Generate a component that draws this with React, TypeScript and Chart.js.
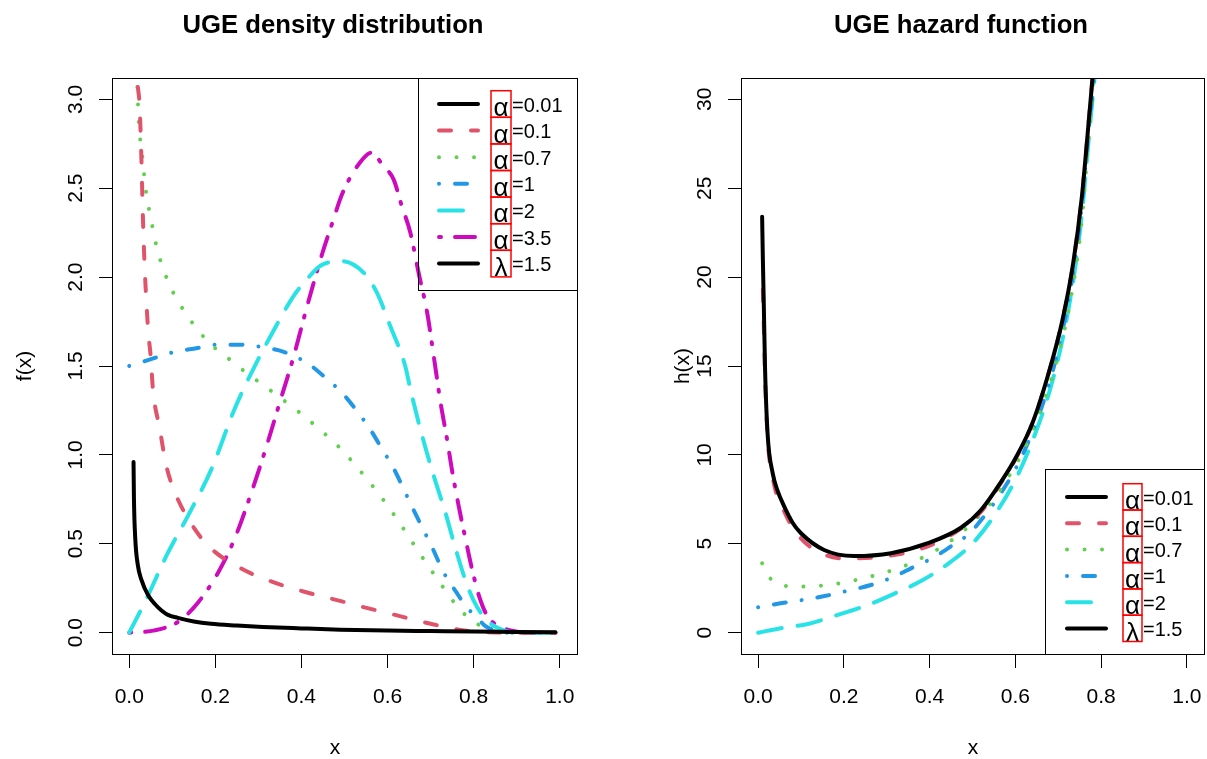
import React, { useEffect, useRef } from "react";
import { Chart, registerables } from "chart.js";
Chart.register(...registerables);

const FONT = '"Liberation Sans", Arial, Helvetica, sans-serif';

// ---------- tick labels ----------
const xTickValues = [0, 0.2, 0.4, 0.6, 0.8, 1.0];
const xTickLabels = ["0.0", "0.2", "0.4", "0.6", "0.8", "1.0"];
const densTickValues = [0, 0.5, 1, 1.5, 2, 2.5, 3];
const densTickLabels = ["0.0", "0.5", "1.0", "1.5", "2.0", "2.5", "3.0"];
const hazTickValues = [0, 5, 10, 15, 20, 25, 30];
const hazTickLabels = ["0", "5", "10", "15", "20", "25", "30"];

// ---------- legends ----------
const densLegendSymbols = ["α", "α", "α", "α", "α", "α", "λ"];
const densLegendValues = ["=0.01", "=0.1", "=0.7", "=1", "=2", "=3.5", "=1.5"];
const hazLegendSymbols = ["α", "α", "α", "α", "α", "λ"];
const hazLegendValues = ["=0.01", "=0.1", "=0.7", "=1", "=2", "=1.5"];

// ---------- density f(x) ----------
const densA001X = [0.010, 0.011, 0.014, 0.020, 0.028, 0.044, 0.06, 0.075, 0.09, 0.113, 0.15, 0.19, 0.25, 0.31, 0.4, 0.49, 0.6, 0.7, 0.8, 0.9, 0.99];
const densA001Y = [0.96, 0.75, 0.53, 0.38, 0.30, 0.21, 0.16, 0.125, 0.10, 0.083, 0.063, 0.05, 0.04, 0.032, 0.024, 0.017, 0.012, 0.009, 0.006, 0.004, 0.002];

const densA01X = [0.02, 0.024, 0.028, 0.032, 0.036, 0.044, 0.05, 0.055, 0.071, 0.086, 0.106, 0.137, 0.183, 0.253, 0.323, 0.409, 0.494, 0.544, 0.622, 0.70, 0.777, 0.82, 0.86, 0.9, 0.99];
const densA01Y = [3.07, 2.97, 2.69, 2.32, 2.05, 1.70, 1.55, 1.37, 1.146, 0.94, 0.79, 0.64, 0.49, 0.37, 0.294, 0.229, 0.176, 0.144, 0.097, 0.05, 0.013, 0.004, 0.001, 0, 0];

const densA07X = [0.019, 0.022, 0.030, 0.038, 0.051, 0.068, 0.095, 0.133, 0.182, 0.242, 0.273, 0.335, 0.397, 0.458, 0.486, 0.538, 0.587, 0.632, 0.674, 0.719, 0.765, 0.794, 0.826, 0.85, 0.88, 0.99];
const densA07Y = [3.07, 2.88, 2.69, 2.50, 2.32, 2.13, 1.95, 1.79, 1.64, 1.52, 1.46, 1.35, 1.236, 1.11, 1.047, 0.906, 0.757, 0.603, 0.448, 0.29, 0.139, 0.073, 0.026, 0.008, 0, 0];

const densA1X = [0.0, 0.04, 0.102, 0.156, 0.207, 0.261, 0.312, 0.362, 0.413, 0.455, 0.494, 0.528, 0.559, 0.587, 0.614, 0.637, 0.66, 0.684, 0.707, 0.73, 0.758, 0.785, 0.808, 0.825, 0.85, 0.88, 0.99];
const densA1Y = [1.5, 1.53, 1.577, 1.60, 1.62, 1.62, 1.605, 1.577, 1.517, 1.436, 1.35, 1.25, 1.146, 1.034, 0.925, 0.81, 0.693, 0.575, 0.462, 0.34, 0.234, 0.139, 0.088, 0.041, 0.012, 0, 0];

const densA2X = [0, 0.036, 0.09, 0.137, 0.191, 0.245, 0.30, 0.331, 0.382, 0.417, 0.444, 0.494, 0.544, 0.575, 0.606, 0.641, 0.653, 0.68, 0.707, 0.734, 0.758, 0.785, 0.808, 0.835, 0.87, 0.9, 0.99];
const densA2Y = [0, 0.17, 0.45, 0.66, 0.92, 1.26, 1.54, 1.68, 1.895, 2.0, 2.064, 2.09, 2.026, 1.914, 1.726, 1.50, 1.37, 1.11, 0.884, 0.678, 0.472, 0.266, 0.144, 0.06, 0.013, 0, 0];

const densA35X = [0, 0.059, 0.113, 0.16, 0.207, 0.245, 0.284, 0.319, 0.354, 0.378, 0.417, 0.448, 0.471, 0.495, 0.536, 0.563, 0.59, 0.614, 0.633, 0.653, 0.672, 0.692, 0.707, 0.723, 0.738, 0.75, 0.765, 0.781, 0.796, 0.812, 0.831, 0.855, 0.886, 0.93, 0.99];
const densA35Y = [0, 0.013, 0.06, 0.17, 0.34, 0.53, 0.79, 1.05, 1.33, 1.52, 1.87, 2.13, 2.30, 2.47, 2.645, 2.70, 2.625, 2.55, 2.40, 2.25, 2.026, 1.80, 1.56, 1.296, 1.09, 0.91, 0.715, 0.528, 0.36, 0.21, 0.097, 0.041, 0.013, 0, 0];

// ---------- hazard h(x) ----------
const hazA001X = [0.0093, 0.011, 0.013, 0.016, 0.022, 0.034, 0.045, 0.061, 0.08, 0.10, 0.154, 0.224, 0.31, 0.396, 0.473, 0.52, 0.567, 0.6, 0.64, 0.68, 0.71, 0.735, 0.755, 0.772, 0.781];
const hazA001Y = [23.4, 21, 18.7, 14.96, 11.2, 8.96, 8.0, 7.09, 6.2, 5.59, 4.65, 4.31, 4.47, 5.03, 5.9, 6.9, 8.5, 9.8, 11.8, 14.8, 17.6, 20.8, 24.5, 29, 31.5];

const hazA01X = [0.011, 0.013, 0.016, 0.022, 0.034, 0.061, 0.10, 0.154, 0.2, 0.3, 0.4, 0.473, 0.52, 0.567, 0.6, 0.64, 0.68, 0.71, 0.735, 0.755, 0.772, 0.781];
const hazA01Y = [19.3, 17.5, 14.5, 11.0, 8.7, 6.8, 5.3, 4.4, 4.18, 4.3, 4.9, 5.85, 6.8, 8.45, 9.75, 11.8, 14.8, 17.6, 20.8, 24.5, 29, 31.5];

const hazA07X = [0.0093, 0.028, 0.061, 0.102, 0.14, 0.18, 0.218, 0.255, 0.294, 0.332, 0.367, 0.402, 0.436, 0.467, 0.497, 0.524, 0.549, 0.58, 0.62, 0.66, 0.7, 0.73, 0.752, 0.77, 0.783];
const hazA07Y = [3.9, 3.06, 2.64, 2.59, 2.63, 2.74, 2.91, 3.12, 3.37, 3.66, 4.03, 4.47, 4.93, 5.5, 6.1, 6.8, 7.5, 8.6, 10.3, 12.6, 15.6, 18.9, 22.5, 27.5, 31.5];

const hazA1X = [0, 0.052, 0.104, 0.155, 0.209, 0.263, 0.314, 0.36, 0.41, 0.452, 0.493, 0.532, 0.563, 0.6, 0.64, 0.68, 0.71, 0.735, 0.755, 0.772, 0.785];
const hazA1Y = [1.43, 1.65, 1.84, 2.06, 2.36, 2.68, 3.12, 3.66, 4.24, 4.89, 5.59, 6.7, 7.74, 9.2, 11.3, 14.1, 17, 20.3, 24, 28.5, 31.5];

const hazA2X = [0, 0.053, 0.116, 0.186, 0.256, 0.318, 0.384, 0.45, 0.504, 0.551, 0.6, 0.64, 0.68, 0.71, 0.735, 0.755, 0.772, 0.786];
const hazA2Y = [0, 0.25, 0.49, 1.0, 1.56, 2.2, 2.96, 4.0, 5.12, 6.6, 8.6, 10.8, 13.6, 16.5, 19.8, 23.5, 28, 31.5];

// ---------- styles ----------
const COL = {
  black: "#000000",
  red: "#DF536B",
  green: "#61D04F",
  blue: "#2297E6",
  cyan: "#28E2E5",
  magenta: "#CD0BBC",
};
const DASH: Record<string, number[]> = {
  solid: [],
  dashed: [12, 20],
  dotted: [0.01, 17.5],
  dotdash: [0.01, 16, 12, 16],
  longdash: [24, 16],
  twodash: [2, 14, 20, 12],
};
const LW = 4;

function ds(xs: number[], ys: number[], color: string, dash: number[]) {
  return {
    data: xs.map((x, i) => ({ x, y: ys[i] })),
    borderColor: color,
    borderDash: dash,
    borderWidth: LW,
    borderCapStyle: "round",
    borderJoinStyle: "round",
    pointRadius: 0,
    fill: false,
    cubicInterpolationMode: "monotone",
  };
}

type LegendSpec = {
  left: number; top: number; right: number; bottom: number;
  row0: number; step: number; lx1: number; lx2: number;
  bx1: number; bx2: number; tx: number;
  symbols: string[]; values: string[]; colors: string[]; dashes: number[][];
};

type Panel = {
  datasets: any[];
  yMin: number; yMax: number;
  yTickValues: number[]; yTickLabels: string[];
  title: string; titleX: number;
  xlabX: number; ylab: string; ylabX: number;
  yAxisWidth: number; padRight: number;
  legend: LegendSpec;
};

function makePlugin(p: Panel) {
  return {
    id: "rdecor",
    afterDraw(chart: any) {
      const ctx: CanvasRenderingContext2D = chart.ctx;
      const a = chart.chartArea;
      const xs = chart.scales.x;
      const ys = chart.scales.y;
      ctx.save();
      ctx.setLineDash([]);
      ctx.lineCap = "butt";
      ctx.strokeStyle = "#000";
      ctx.lineWidth = 1;
      ctx.strokeRect(Math.round(a.left) + 0.5, Math.round(a.top) + 0.5, Math.round(a.right - a.left), Math.round(a.bottom - a.top));

      ctx.fillStyle = "#000";
      ctx.font = `21px ${FONT}`;
      ctx.textAlign = "center";
      ctx.textBaseline = "alphabetic";
      xTickValues.forEach((v, i) => {
        ctx.fillText(xTickLabels[i], xs.getPixelForValue(v), a.bottom + 49);
      });
      p.yTickValues.forEach((v, i) => {
        const py = ys.getPixelForValue(v);
        ctx.save();
        ctx.translate(a.left - 30, py);
        ctx.rotate(-Math.PI / 2);
        ctx.fillText(p.yTickLabels[i], 0, 0);
        ctx.restore();
      });

      // title
      ctx.font = `bold 25.7px ${FONT}`;
      ctx.fillText(p.title, p.titleX, 33);
      // x label
      ctx.font = `21px ${FONT}`;
      ctx.fillText("x", p.xlabX, 754);
      // y label
      ctx.save();
      ctx.translate(p.ylabX, (a.top + a.bottom) / 2);
      ctx.rotate(-Math.PI / 2);
      ctx.fillText(p.ylab, 0, 0);
      ctx.restore();

      // legend
      const L = p.legend;
      ctx.strokeStyle = "#000";
      ctx.lineWidth = 1;
      ctx.strokeRect(Math.round(L.left) + 0.5, Math.round(L.top) + 0.5, Math.round(L.right - L.left), Math.round(L.bottom - L.top));
      L.symbols.forEach((sym, i) => {
        const ry = L.row0 + i * L.step;
        ctx.save();
        ctx.strokeStyle = L.colors[i];
        ctx.lineWidth = LW;
        ctx.lineCap = "round";
        ctx.setLineDash(L.dashes[i]);
        ctx.beginPath();
        ctx.moveTo(L.lx1, ry);
        ctx.lineTo(L.lx2, ry);
        ctx.stroke();
        ctx.restore();

        ctx.fillStyle = "#000";
        ctx.font = `26px ${FONT}`;
        ctx.textAlign = "center";
        ctx.textBaseline = "alphabetic";
        ctx.fillText(sym, (L.bx1 + L.bx2) / 2, ry + 12);
        ctx.font = `20px ${FONT}`;
        ctx.textAlign = "left";
        ctx.fillText(L.values[i], L.tx, ry + 7.5);

        ctx.strokeStyle = "#FF0000";
        ctx.lineWidth = 1.5;
        ctx.setLineDash([]);
        ctx.strokeRect(L.bx1, ry - 13.3, L.bx2 - L.bx1, L.step);
      });
      ctx.restore();
    },
  };
}

function makeConfig(p: Panel): any {
  return {
    type: "line",
    data: { datasets: p.datasets },
    options: {
      animation: false,
      responsive: false,
      devicePixelRatio: 1,
      events: [],
      layout: { padding: { left: 0, right: p.padRight, top: 78, bottom: 0 } },
      plugins: {
        legend: { display: false },
        title: { display: false },
        tooltip: { enabled: false },
      },
      scales: {
        x: {
          type: "linear",
          min: -0.04,
          max: 1.04,
          afterBuildTicks: (s: any) => {
            s.ticks = xTickValues.map((v) => ({ value: v }));
          },
          afterFit: (s: any) => {
            s.height = 105;
          },
          ticks: { display: false },
          grid: { display: true, drawOnChartArea: false, drawTicks: true, tickLength: 14, color: "#000", lineWidth: 1 },
          border: { display: false },
        },
        y: {
          type: "linear",
          min: p.yMin,
          max: p.yMax,
          afterBuildTicks: (s: any) => {
            s.ticks = p.yTickValues.map((v) => ({ value: v }));
          },
          afterFit: (s: any) => {
            s.width = p.yAxisWidth;
          },
          ticks: { display: false },
          grid: { display: true, drawOnChartArea: false, drawTicks: true, tickLength: 13, color: "#000", lineWidth: 1 },
          border: { display: false },
        },
      },
    },
    plugins: [makePlugin(p)],
  };
}

const densPanel: Panel = {
  datasets: [
    ds(densA001X, densA001Y, COL.black, DASH.solid),
    ds(densA01X, densA01Y, COL.red, DASH.dashed),
    ds(densA07X, densA07Y, COL.green, DASH.dotted),
    ds(densA1X, densA1Y, COL.blue, DASH.dotdash),
    ds(densA2X, densA2Y, COL.cyan, DASH.longdash),
    ds(densA35X, densA35Y, COL.magenta, DASH.twodash),
  ],
  yMin: -0.12,
  yMax: 3.12,
  yTickValues: densTickValues,
  yTickLabels: densTickLabels,
  title: "UGE density distribution",
  titleX: 333,
  xlabX: 335,
  ylab: "f(x)",
  ylabX: 31,
  yAxisWidth: 112,
  padRight: 27,
  legend: {
    left: 418, top: 78, right: 577, bottom: 290,
    row0: 104, step: 26.6, lx1: 439, lx2: 478,
    bx1: 491, bx2: 511, tx: 512,
    symbols: densLegendSymbols, values: densLegendValues,
    colors: [COL.black, COL.red, COL.green, COL.blue, COL.cyan, COL.magenta, COL.black],
    dashes: [DASH.solid, DASH.dashed, DASH.dotted, DASH.dotdash, DASH.longdash, DASH.twodash, DASH.solid],
  },
};

const OFF = 604;
const hazPanel: Panel = {
  datasets: [
    ds(hazA001X, hazA001Y, COL.black, DASH.solid),
    ds(hazA01X, hazA01Y, COL.red, DASH.dashed),
    ds(hazA07X, hazA07Y, COL.green, DASH.dotted),
    ds(hazA1X, hazA1Y, COL.blue, DASH.dotdash),
    ds(hazA2X, hazA2Y, COL.cyan, DASH.longdash),
  ],
  yMin: -1.2,
  yMax: 31.2,
  yTickValues: hazTickValues,
  yTickLabels: hazTickLabels,
  title: "UGE hazard function",
  titleX: 961 - OFF,
  xlabX: 973 - OFF,
  ylab: "h(x)",
  ylabX: 689 - OFF,
  yAxisWidth: 741 - OFF,
  padRight: 3,
  legend: {
    left: 1045 - OFF, top: 469, right: 1204 - OFF, bottom: 654,
    row0: 497, step: 26.3, lx1: 1067 - OFF, lx2: 1106 - OFF,
    bx1: 1123 - OFF, bx2: 1142 - OFF, tx: 1143 - OFF,
    symbols: hazLegendSymbols, values: hazLegendValues,
    colors: [COL.black, COL.red, COL.green, COL.blue, COL.cyan, COL.black],
    dashes: [DASH.solid, DASH.dashed, DASH.dotted, DASH.dotdash, DASH.longdash, DASH.solid],
  },
};

export default function App() {
  const leftRef = useRef<HTMLCanvasElement>(null);
  const rightRef = useRef<HTMLCanvasElement>(null);
  useEffect(() => {
    const c1 = new Chart(leftRef.current as HTMLCanvasElement, makeConfig(densPanel));
    const c2 = new Chart(rightRef.current as HTMLCanvasElement, makeConfig(hazPanel));
    return () => {
      c1.destroy();
      c2.destroy();
    };
  }, []);
  return (
    <div style={{ position: "absolute", left: 0, top: 0, width: 1207, height: 759, background: "#fff", overflow: "hidden" }}>
      <canvas ref={leftRef} width={604} height={759} style={{ position: "absolute", left: 0, top: 0, width: 604, height: 759 }} />
      <canvas ref={rightRef} width={603} height={759} style={{ position: "absolute", left: OFF, top: 0, width: 603, height: 759 }} />
    </div>
  );
}
